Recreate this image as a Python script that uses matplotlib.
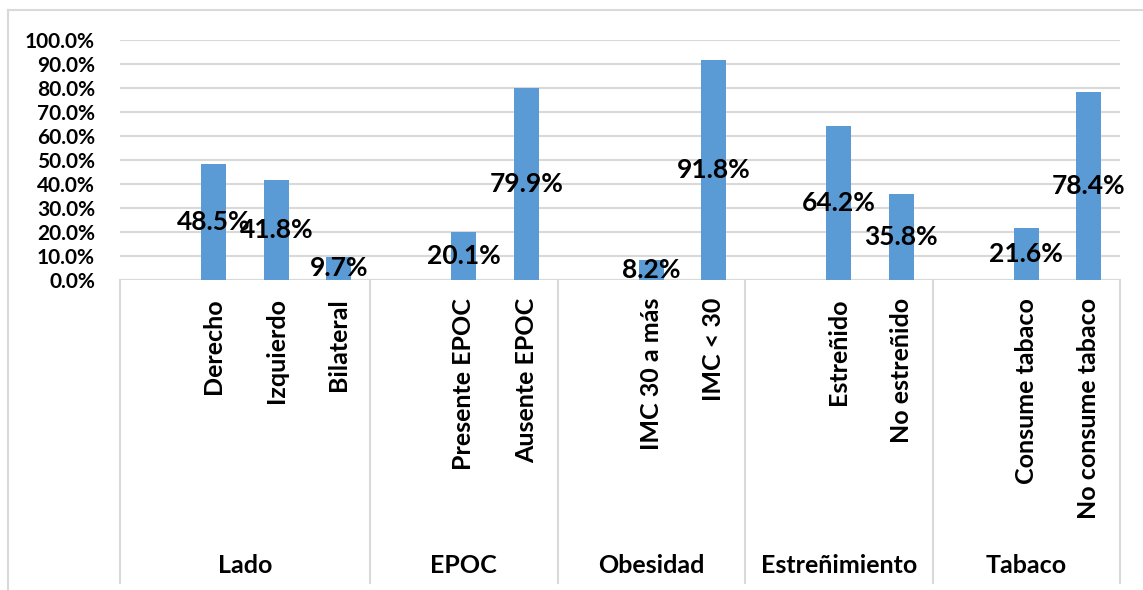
import matplotlib
matplotlib.use("Agg")
import matplotlib.pyplot as plt
from matplotlib.lines import Line2D
from matplotlib.ticker import FuncFormatter, MultipleLocator

group_names = ["Lado", "EPOC", "Obesidad", "Estreñimiento", "Tabaco"]
group_sizes = [3, 2, 2, 2, 2]
category_labels = [
    "Derecho", "Izquierdo", "Bilateral",
    "Presente EPOC", "Ausente EPOC",
    "IMC 30 a más", "IMC < 30",
    "Estreñido", "No estreñido",
    "Consume tabaco", "No consume tabaco",
]
percentages = [48.5, 41.8, 9.7, 20.1, 79.9, 8.2, 91.8, 64.2, 35.8, 21.6, 78.4]

BAR = "#5B9BD5"
GRID = "#D9D9D9"
plt.rcParams["font.family"] = ["Lato", "DejaVu Sans"]
plt.rcParams["font.weight"] = "bold"

W, H = 1143, 590
fig = plt.figure(figsize=(W / 100, H / 100), dpi=100)
# plot area in pixels: x 120..1120, y 40..280
ax = fig.add_axes([120 / W, 1 - 280 / H, 1000 / W, 240 / H])

# each group gets one empty leading slot, like the Excel source
positions, seps, group_centers = [], [-0.5], []
slot = 0
for size in group_sizes:
    start = slot
    slot += 1
    for _ in range(size):
        positions.append(slot)
        slot += 1
    seps.append(slot - 0.5)
    group_centers.append((start + slot - 1) / 2)

ax.bar(positions, percentages, width=0.4, color=BAR, zorder=3)
for x, v in zip(positions, percentages):
    ax.text(x, v / 2, f"{v:.1f}%", ha="center", va="center",
            fontsize=19, fontweight="bold", zorder=4)

ax.set_xlim(-0.5, slot - 0.5)
ax.set_ylim(0, 100)
ax.yaxis.set_major_locator(MultipleLocator(10))
ax.yaxis.set_major_formatter(FuncFormatter(lambda v, _: f"{v:.1f}%"))
ax.tick_params(axis="y", length=0, labelsize=15, pad=18)
for lab in ax.get_yticklabels():
    lab.set_fontweight("bold")
ax.set_xticks([])
ax.grid(axis="y", color=GRID, linewidth=1.5, zorder=0)
for s in ax.spines.values():
    s.set_visible(False)
ax.axhline(0, color=GRID, linewidth=1.5, zorder=2)

# multi-level category axis drawn below the plot
trans = ax.get_xaxis_transform()
y_bottom = -(583 - 280) / 240
for s in seps:
    ax.add_line(Line2D([s, s], [0, y_bottom], transform=trans, color=GRID,
                       linewidth=1.5, clip_on=False))
for x, lab in zip(positions, category_labels):
    ax.text(x, -(298 - 280) / 240, lab, transform=trans, rotation=90,
            ha="center", va="top", fontsize=18, fontweight="bold")
for x, lab in zip(group_centers, group_names):
    ax.text(x, -(565 - 280) / 240, lab, transform=trans,
            ha="center", va="center", fontsize=18, fontweight="bold")

# outer chart border (top and left visible)
fig.add_artist(Line2D([8 / W, 1], [1 - 10 / H, 1 - 10 / H], color=GRID, linewidth=1.5))
fig.add_artist(Line2D([8 / W, 8 / W], [0, 1 - 10 / H], color=GRID, linewidth=1.5))

fig.savefig("out.png", dpi=100)
plt.close(fig)
